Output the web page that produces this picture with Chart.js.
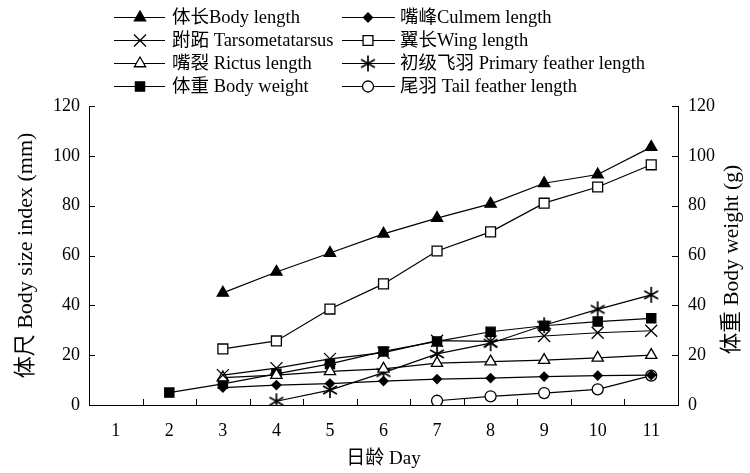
<!DOCTYPE html>
<html>
<head>
<meta charset="utf-8">
<script src="https://cdn.jsdelivr.net/npm/chart.js@4/dist/chart.umd.min.js"></script>
<style>
  html, body { margin: 0; padding: 0; background: #fff; }
  #wrap { width: 750px; height: 473px; position: relative; }
</style>
</head>
<body>
<div id="wrap"><canvas id="growth" width="750" height="473"></canvas></div>
<script>
// 日龄 Day
var days = ['1', '2', '3', '4', '5', '6', '7', '8', '9', '10', '11'];
var yTicks = [0, 20, 40, 60, 80, 100, 120];

// values (mm, body weight in g)
var bodyLength = [null, null, 45, 53.4, 61, 68.7, 75, 80.7, 89, 92.5, 103.5];
var tarsus     = [null, null, 12, 14.8, 18.5, 21, 25.8, 25.5, 27.7, 29, 29.8];
var rictus     = [null, null, 11, 12, 13.5, 14.5, 16.8, 17.4, 18, 18.9, 20];
var bodyWeight = [null, 5, 8.5, 12.5, 16.5, 21.5, 25.5, 29.4, 31.8, 33.5, 34.8];
var culmen     = [null, null, 7, 8, 8.6, 9.6, 10.4, 10.8, 11.4, 11.8, 12];
var wing       = [null, null, 22.5, 25.7, 38.5, 48.6, 61.8, 69.5, 81, 87.5, 96.4];
var primary    = [null, null, null, 1.5, 6, 13, 20.5, 24.8, 32, 38.4, 44.2];
var tail       = [null, null, null, null, null, null, 1.7, 3.5, 4.8, 6.3, 11.8];

var serif = '"Liberation Serif", "Times New Roman", "Noto Sans CJK SC", serif';

// asterisk marker (3 strokes, no horizontal)
var star = document.createElement('canvas');
star.width = 18; star.height = 18;
(function () {
  var c = star.getContext('2d');
  c.strokeStyle = '#000'; c.lineWidth = 1.7;
  c.beginPath();
  [90, 30, 150].forEach(function (deg) {
    var r = deg * Math.PI / 180, dx = Math.cos(r) * 8, dy = Math.sin(r) * 8;
    c.moveTo(9 - dx, 9 - dy); c.lineTo(9 + dx, 9 + dy);
  });
  c.stroke();
})();

function series(label, data, style, radius, fill, axis) {
  return {
    label: label,
    data: data,
    yAxisID: axis || 'y',
    borderColor: '#000',
    borderWidth: 1.2,
    pointStyle: style,
    pointRadius: radius,
    pointBackgroundColor: fill,
    pointBorderColor: '#000',
    pointBorderWidth: 1.3,
    fill: false,
    tension: 0
  };
}

var datasets = [
  series('体长Body length', bodyLength, 'triangle', 6.5, '#000'),
  series('跗跖 Tarsometatarsus', tarsus, 'crossRot', 8.5, '#000'),
  series('嘴裂 Rictus length', rictus, 'triangle', 6.5, '#fff'),
  series('体重 Body weight', bodyWeight, 'rect', 6.5, '#000', 'y1'),
  series('嘴峰Culmem length', culmen, 'rectRot', 4.5, '#000'),
  series('翼长Wing length', wing, 'rect', 7, '#fff'),
  series('初级飞羽 Primary feather length', primary, star, 8, '#000'),
  series('尾羽 Tail feather length', tail, 'circle', 5.5, '#fff')
];

// inward ticks, right axis title and the two-column legend
var extras = {
  id: 'extras',
  afterDraw: function (chart) {
    var ctx = chart.ctx, a = chart.chartArea;
    var sx = chart.scales.x, sy = chart.scales.y;
    ctx.save();
    ctx.strokeStyle = '#000';
    ctx.lineWidth = 1;
    ctx.beginPath();
    yTicks.forEach(function (v) {
      var py = Math.round(sy.getPixelForValue(v)) + 0.5;
      ctx.moveTo(a.left, py); ctx.lineTo(a.left + 6, py);
      ctx.moveTo(a.right, py); ctx.lineTo(a.right - 6, py);
    });
    for (var i = 0; i < days.length - 1; i++) {
      var px = Math.round((sx.getPixelForValue(i) + sx.getPixelForValue(i + 1)) / 2) + 0.5;
      ctx.moveTo(px, a.bottom); ctx.lineTo(px, a.bottom - 6);
    }
    ctx.stroke();

    // right title reads bottom to top
    ctx.save();
    ctx.translate(732, (a.top + a.bottom) / 2 + 4);
    ctx.rotate(-Math.PI / 2);
    ctx.fillStyle = '#000';
    ctx.font = '21.5px ' + serif;
    ctx.textAlign = 'center';
    ctx.textBaseline = 'middle';
    ctx.fillText('体重 Body weight (g)', 0, 0);
    ctx.restore();

    // legend
    var rows = [17, 40, 63, 86];
    ctx.font = '18.5px ' + serif;
    ctx.textAlign = 'left';
    ctx.textBaseline = 'middle';
    datasets.forEach(function (ds, k) {
      var col = k < 4 ? 0 : 1, y = rows[k % 4];
      var x0 = col ? 342 : 114, x1 = col ? 395 : 165, mx = col ? 368 : 140, tx = col ? 400 : 172;
      ctx.strokeStyle = '#000';
      ctx.lineWidth = 1.2;
      ctx.beginPath(); ctx.moveTo(x0, y + 0.5); ctx.lineTo(x1, y + 0.5); ctx.stroke();
      ctx.fillStyle = ds.pointBackgroundColor;
      ctx.lineWidth = 1.3;
      Chart.helpers.drawPoint(ctx, { pointStyle: ds.pointStyle, radius: ds.pointRadius, rotation: 0, borderWidth: 1.3 }, mx, y + 0.5);
      ctx.fillStyle = '#000';
      ctx.fillText(ds.label, tx, y + 1);
    });
    ctx.restore();
  }
};

new Chart(document.getElementById('growth').getContext('2d'), {
  type: 'line',
  data: { labels: days, datasets: datasets },
  options: {
    responsive: false,
    animation: false,
    devicePixelRatio: 1,
    layout: { padding: { top: 106, left: 0, right: 0, bottom: 0 } },
    plugins: { legend: { display: false }, tooltip: { enabled: false } },
    scales: {
      x: {
        offset: true,
        grid: { display: false, drawTicks: false, offset: true },
        border: { display: true, color: '#000', width: 1 },
        ticks: { color: '#000', font: { family: serif, size: 18 }, padding: 15, maxRotation: 0 },
        title: { display: true, text: '日龄 Day', color: '#000', font: { family: serif, size: 19 }, padding: { top: 0, bottom: 3 } },
        afterFit: function (s) { s.height = 68; }
      },
      y: {
        min: 0, max: 120,
        ticks: { stepSize: 20, color: '#000', font: { family: serif, size: 18 }, padding: 9 },
        grid: { display: false, drawTicks: false },
        border: { display: true, color: '#000', width: 1 },
        title: { display: true, text: '体尺 Body size index (mm)', color: '#000', font: { family: serif, size: 22 }, padding: { top: 13, bottom: 0 } },
        afterFit: function (s) { s.width = 89; }
      },
      y1: {
        position: 'right',
        min: 0, max: 120,
        ticks: { stepSize: 20, color: '#000', font: { family: serif, size: 18 }, padding: 10 },
        grid: { display: false, drawTicks: false },
        border: { display: true, color: '#000', width: 1 },
        afterFit: function (s) { s.width = 72; }
      }
    }
  },
  plugins: [extras]
});
</script>
</body>
</html>
